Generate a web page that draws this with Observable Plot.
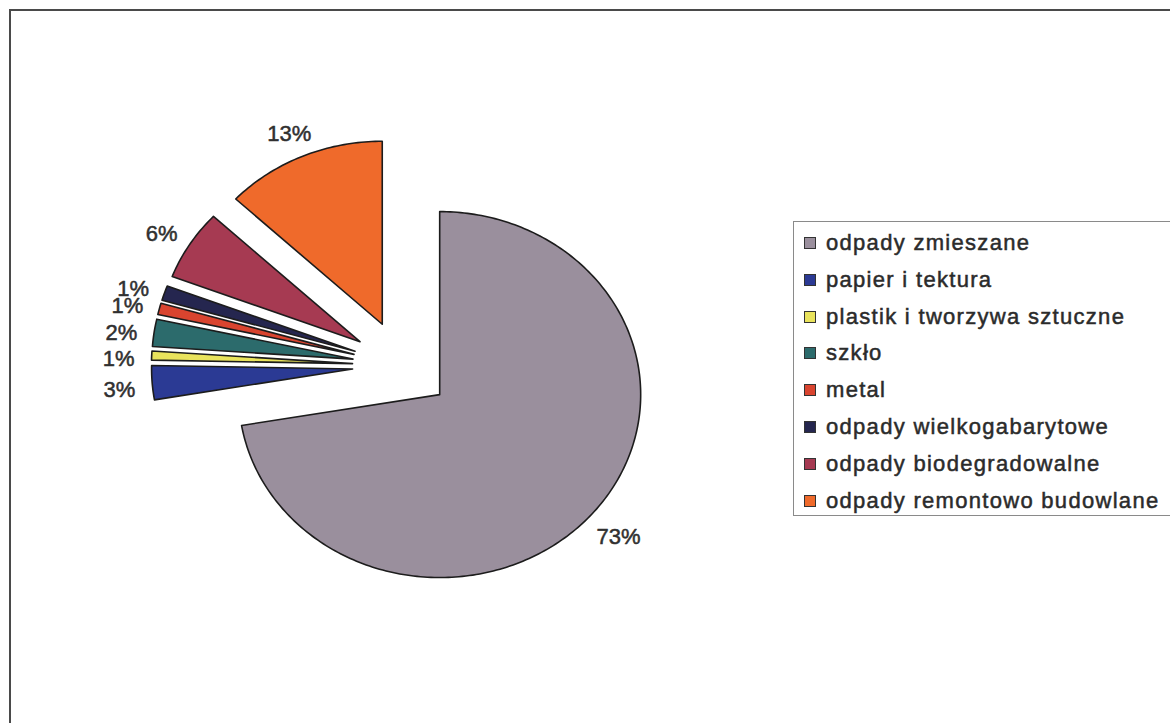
<!DOCTYPE html>
<html>
<head>
<meta charset="utf-8">
<script src="https://cdn.jsdelivr.net/npm/d3@7"></script>
<script src="https://cdn.jsdelivr.net/npm/@observablehq/plot@0.6"></script>
<style>
  html, body { margin: 0; padding: 0; background: #fff; }
  #wrap { position: relative; width: 1170px; height: 723px; overflow: hidden; background: #fff; }
  #frame { position: absolute; left: 9px; top: 9px; width: 1200px; height: 760px;
           border-left: 2px solid #4a4a4a; border-top: 2px solid #4a4a4a; }
  #chart { position: absolute; left: 0; top: 0; }
  #legend { position: absolute; left: 793px; top: 221px; width: 420px; height: 293px;
            border: 1px solid #8a8a8a; background: #fff;
            font-family: "Liberation Sans", Arial, sans-serif; font-size: 22px; color: #2b2b2b;
            -webkit-text-stroke: 0.5px #2b2b2b; }
  .item { position: absolute; left: 10px; height: 24px; display: flex; align-items: center; white-space: nowrap; letter-spacing: 1.3px; }
  .sw { width: 10px; height: 10px; border: 1px solid #333; margin-right: 10px; flex: none; }
</style>
</head>
<body>
<div id="wrap">
  <div id="frame"></div>
  <div id="chart"></div>
  <div id="legend"></div>
</div>
<script>
// ---- data ----
const categories = [
  "odpady zmieszane",
  "papier i tektura",
  "plastik i tworzywa sztuczne",
  "szkło",
  "metal",
  "odpady wielkogabarytowe",
  "odpady biodegradowalne",
  "odpady remontowo budowlane"
];
const values = [72.3, 3.0, 0.8, 2.4, 1.0, 1.3, 6.2, 13.0];
const percentLabels = ["73%", "3%", "1%", "2%", "1%", "1%", "6%", "13%"];
const colors = ["#9a8f9d", "#2b3a94", "#e9e35c", "#2c6b6c", "#d9442f", "#25264f", "#a63a52", "#ef6a2b"];

// ---- geometry (unit-radius pie, every slice exploded) ----
const R = 1, EXPLODE = 0.246, LABEL_R = 1.41;
const total = d3.sum(values);
const outline = [];
const labelData = [];
let acc = 0;
values.forEach((v, i) => {
  const a0 = acc / total * 2 * Math.PI;
  const a1 = (acc + v) / total * 2 * Math.PI;
  const mid = (a0 + a1) / 2;
  const ax = EXPLODE * Math.sin(mid), ay = EXPLODE * Math.cos(mid);
  const name = categories[i];
  outline.push({name, x: ax, y: ay});
  const n = Math.max(4, Math.ceil((a1 - a0) / (Math.PI / 180)));
  for (let k = 0; k <= n; k++) {
    const t = a0 + (a1 - a0) * k / n;
    outline.push({name, x: ax + R * Math.sin(t), y: ay + R * Math.cos(t)});
  }
  outline.push({name, x: ax, y: ay});
  labelData.push({name, text: percentLabels[i], x: LABEL_R * Math.sin(mid), y: LABEL_R * Math.cos(mid)});
  acc += v;
});

const chart = Plot.plot({
  width: 1170,
  height: 723,
  margin: 0,
  style: {background: "transparent"},
  x: {domain: [-1.997, 3.824], axis: null},
  y: {domain: [-1.956, 1.995], axis: null},
  color: {domain: categories, range: colors},
  marks: [
    Plot.line(outline, {x: "x", y: "y", z: "name", fill: "name", stroke: "#1c1c1c", strokeWidth: 1.6, curve: "linear", strokeLinejoin: "round"}),
    Plot.text(labelData, {x: "x", y: "y", text: "text", fontSize: 22, fill: "#303030", stroke: "#303030", strokeWidth: 0.5,
      dy: 5, fontFamily: "Liberation Sans, Arial, sans-serif"})
  ]
});
document.getElementById("chart").appendChild(chart);

// ---- legend ----
const legend = document.getElementById("legend");
categories.forEach((c, i) => {
  const it = document.createElement("div");
  it.className = "item";
  it.style.top = (20.7 + i * 36.9 - 12) + "px";
  const sw = document.createElement("span");
  sw.className = "sw";
  sw.style.background = colors[i];
  it.appendChild(sw);
  it.appendChild(document.createTextNode(c));
  legend.appendChild(it);
});
</script>
</body>
</html>
